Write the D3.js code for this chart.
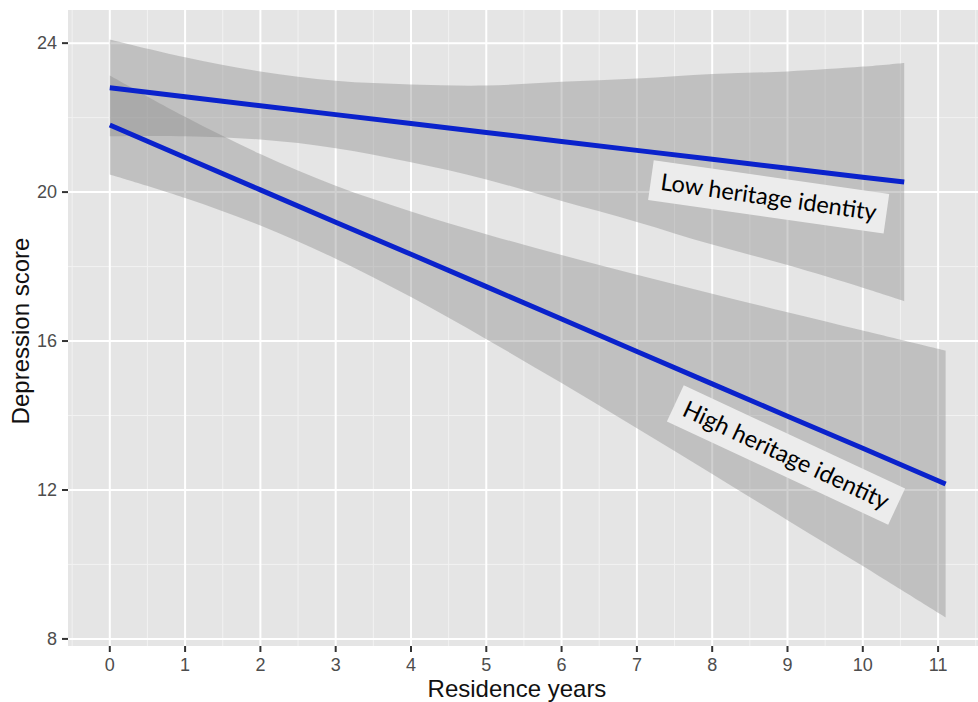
<!DOCTYPE html>
<html>
<head>
<meta charset="utf-8">
<script src="https://cdn.jsdelivr.net/npm/d3@7"></script>
<style>
  body { margin: 0; background: #fff; }
  svg { display: block; }
</style>
</head>
<body>
<svg id="chart"></svg>
<script>
// values
const lowX = [0, 1, 2, 3, 4, 5, 6, 7, 8, 9, 10, 10.55];
const lowFit = [22.80, 22.56, 22.32, 22.08, 21.84, 21.60, 21.36, 21.12, 20.88, 20.64, 20.40, 20.27];
const lowUpper = [24.10, 23.62, 23.24, 22.99, 22.89, 22.86, 22.96, 23.05, 23.17, 23.24, 23.37, 23.47];
const lowLower = [21.50, 21.50, 21.41, 21.18, 20.80, 20.34, 19.76, 19.20, 18.59, 18.04, 17.43, 17.07];

const highX = [0, 1, 2, 3, 4, 5, 6, 7, 8, 9, 10, 11.1];
const highFit = [21.80, 20.93, 20.06, 19.19, 18.33, 17.46, 16.59, 15.72, 14.85, 13.98, 13.12, 12.16];
const highUpper = [23.13, 22.02, 21.02, 20.17, 19.48, 18.87, 18.31, 17.78, 17.27, 16.77, 16.28, 15.74];
const highLower = [20.47, 19.84, 19.10, 18.21, 17.18, 16.05, 14.87, 13.66, 12.43, 11.19, 9.96, 8.58];

const xTicks = [0, 1, 2, 3, 4, 5, 6, 7, 8, 9, 10, 11];
const xMinor = [-0.5, 0.5, 1.5, 2.5, 3.5, 4.5, 5.5, 6.5, 7.5, 8.5, 9.5, 10.5, 11.5];
const yTicks = [8, 12, 16, 20, 24];
const yMinor = [10, 14, 18, 22];

const labels = [
  { text: "Low heritage identity", x: 8.75, y: 19.87, angle: 8.1 },
  { text: "High heritage identity", x: 8.98, y: 12.94, angle: 25 }
];

const width = 978;
const height = 702;
const margin = { top: 10, right: 0, bottom: 56, left: 68 };

const svg = d3.select("#chart").attr("width", width).attr("height", height);

// 比例尺
const x = d3.scaleLinear().domain([-0.555, 11.655]).range([margin.left, margin.left + 12.21 * 75.3]);
const y = d3.scaleLinear().domain([7.81, 24.89]).range([height - margin.bottom, margin.top]);

const panelLeft = margin.left;
const panelRight = x.range()[1];
const panelTop = margin.top;
const panelBottom = height - margin.bottom;

svg.append("rect")
  .attr("x", panelLeft)
  .attr("y", panelTop)
  .attr("width", panelRight - panelLeft)
  .attr("height", panelBottom - panelTop)
  .attr("fill", "#e5e5e5");

const grid = svg.append("g");
grid.selectAll(".vminor").data(xMinor).enter().append("line")
  .attr("x1", d => x(d)).attr("x2", d => x(d))
  .attr("y1", panelTop).attr("y2", panelBottom)
  .attr("stroke", "#f2f2f2").attr("stroke-width", 1);
grid.selectAll(".hminor").data(yMinor).enter().append("line")
  .attr("y1", d => y(d)).attr("y2", d => y(d))
  .attr("x1", panelLeft).attr("x2", panelRight)
  .attr("stroke", "#f2f2f2").attr("stroke-width", 1);
grid.selectAll(".vmajor").data(xTicks).enter().append("line")
  .attr("x1", d => x(d)).attr("x2", d => x(d))
  .attr("y1", panelTop).attr("y2", panelBottom)
  .attr("stroke", "#ffffff").attr("stroke-width", 2);
grid.selectAll(".hmajor").data(yTicks).enter().append("line")
  .attr("y1", d => y(d)).attr("y2", d => y(d))
  .attr("x1", panelLeft).attr("x2", panelRight)
  .attr("stroke", "#ffffff").attr("stroke-width", 2);

// bands + fitted lines
const groups = [
  { xs: lowX, fit: lowFit, up: lowUpper, lo: lowLower },
  { xs: highX, fit: highFit, up: highUpper, lo: highLower }
];

const area = d3.area()
  .x(d => x(d.x))
  .y0(d => y(d.lo))
  .y1(d => y(d.up))
  .curve(d3.curveCatmullRom);

const line = d3.line()
  .x(d => x(d.x))
  .y(d => y(d.fit));

groups.forEach(g => {
  const pts = g.xs.map((v, i) => ({ x: v, fit: g.fit[i], up: g.up[i], lo: g.lo[i] }));
  svg.append("path")
    .datum(pts)
    .attr("d", area)
    .attr("fill", "#8a8a8a")
    .attr("fill-opacity", 0.4);
  g.pts = pts;
});

groups.forEach(g => {
  svg.append("path")
    .datum(g.pts)
    .attr("d", line)
    .attr("fill", "none")
    .attr("stroke", "#0a22cc")
    .attr("stroke-width", 5);
});

// 标签
labels.forEach(l => {
  const lg = svg.append("g")
    .attr("transform", "translate(" + x(l.x) + "," + y(l.y) + ") rotate(" + l.angle + ")");
  const box = lg.append("rect").attr("fill", "#ececec");
  const t = lg.append("text")
    .attr("text-anchor", "middle")
    .attr("dy", "0.35em")
    .style("font-family", "Lato, 'Open Sans', sans-serif")
    .style("font-size", "23.5px")
    .attr("fill", "#000")
    .text(l.text);
  const bb = t.node().getBBox();
  const padX = 10;
  box.attr("x", bb.x - padX).attr("y", -20)
    .attr("width", bb.width + 2 * padX).attr("height", 40);
});

// axes
const tickFont = "'Liberation Sans', Arial, sans-serif";
const yAxis = svg.append("g");
yAxis.selectAll("line").data(yTicks).enter().append("line")
  .attr("x1", panelLeft - 6).attr("x2", panelLeft)
  .attr("y1", d => y(d)).attr("y2", d => y(d))
  .attr("stroke", "#333").attr("stroke-width", 2);
yAxis.selectAll("text").data(yTicks).enter().append("text")
  .attr("x", panelLeft - 11)
  .attr("y", d => y(d))
  .attr("dy", "0.35em")
  .attr("text-anchor", "end")
  .style("font-family", tickFont)
  .style("font-size", "18px")
  .attr("fill", "#4d4d4d")
  .text(d => d);

const xAxis = svg.append("g");
xAxis.selectAll("line").data(xTicks).enter().append("line")
  .attr("y1", panelBottom).attr("y2", panelBottom + 6)
  .attr("x1", d => x(d)).attr("x2", d => x(d))
  .attr("stroke", "#333").attr("stroke-width", 2);
xAxis.selectAll("text").data(xTicks).enter().append("text")
  .attr("x", d => x(d))
  .attr("y", panelBottom + 25)
  .attr("text-anchor", "middle")
  .style("font-family", tickFont)
  .style("font-size", "18px")
  .attr("fill", "#4d4d4d")
  .text(d => d);

svg.append("text")
  .attr("x", 517)
  .attr("y", 697)
  .attr("text-anchor", "middle")
  .style("font-family", tickFont)
  .style("font-size", "24px")
  .attr("fill", "#111")
  .text("Residence years");

svg.append("text")
  .attr("transform", "translate(29," + 331 + ") rotate(-90)")
  .attr("text-anchor", "middle")
  .style("font-family", tickFont)
  .style("font-size", "24px")
  .attr("fill", "#111")
  .text("Depression score");
</script>
</body>
</html>
